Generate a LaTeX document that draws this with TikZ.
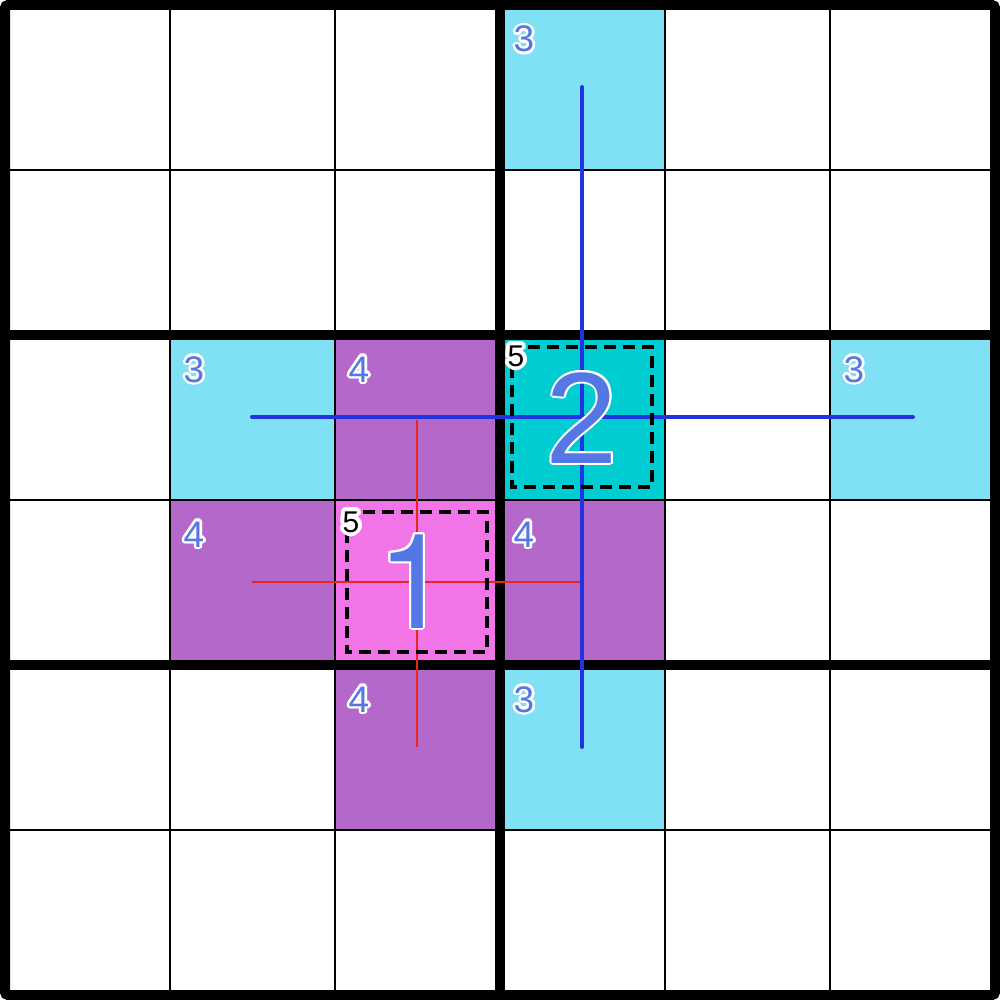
\documentclass[tikz,border=0pt]{standalone}
\usepackage{fontspec}
\setmainfont{Liberation Sans}
\newfontfamily\onefont{TeX Gyre Heros}
\definecolor{cyanc}{HTML}{80E1F5}
\definecolor{purpc}{HTML}{B469CA}
\definecolor{pinkc}{HTML}{F275E8}
\definecolor{tealc}{HTML}{00CDD2}
\definecolor{numblue}{HTML}{5577E6}
\definecolor{lineblue}{HTML}{2233E0}
\definecolor{linered}{HTML}{E8261E}
\tikzset{
  thingrid/.style={line width=2pt, black},
  thickgrid/.style={line width=10pt, black},
  bluepath/.style={line width=4pt, lineblue, line cap=round},
  redpath/.style={line width=2.7pt, linered},
  dashbox/.style={line width=3.5pt, black, dash pattern=on 12pt off 7pt},
  lbl/.style={inner sep=0pt, anchor=base},
}
% #1 name, #2 x, #3 y, #4 font size, #5 colour, #6 halo radius, #7 text
\newcommand{\halolabel}[7]{%
  \foreach \ang in {0,22.5,...,337.5}{%
    \node[lbl, white, font=\fontsize{#4}{#4}\selectfont, shift={(\ang:#6)}] at (#2,#3) {#7};
  }
  \foreach \ang in {0,45,...,315}{%
    \node[lbl, white, font=\fontsize{#4}{#4}\selectfont, shift={(\ang:#6*0.5)}] at (#2,#3) {#7};
  }
  \node[lbl, #5, font=\fontsize{#4}{#4}\selectfont] (#1) at (#2,#3) {#7};
}
\begin{document}
\begin{tikzpicture}[x=1pt,y=-1pt]
\useasboundingbox (0,0) rectangle (1000,1000);
\fill[white] (0,0) rectangle (1000,1000);
% cell fills: column c, row r
\foreach \c/\r/\col in {3/0/cyanc,1/2/cyanc,5/2/cyanc,3/4/cyanc,
                        2/2/purpc,1/3/purpc,3/3/purpc,2/4/purpc,
                        2/3/pinkc,3/2/tealc}{
  \fill[\col] ({5+165*\c},{5+165*\r}) rectangle ({5+165*(\c+1)},{5+165*(\r+1)});
}
% thin grid
\foreach \p in {170,830}{
  \draw[thingrid] (\p,5) -- (\p,995);
  \draw[thingrid] (5,\p) -- (995,\p);
}
\foreach \p in {335,665}{
  \draw[thingrid] (\p,5) -- (\p,995);
}
\draw[thingrid] (5,500) -- (995,500);
% thick grid
\draw[thickgrid] (500,5) -- (500,995);
\draw[thickgrid] (5,335) -- (995,335);
\draw[thickgrid] (5,665) -- (995,665);
\draw[thickgrid, rounded corners=3pt] (5,5) rectangle (995,995);
% coloured crosses
\coordinate (bt) at (582,87);
\coordinate (bb) at (582,747);
\coordinate (bl) at (252,417);
\coordinate (br) at (913,417);
\coordinate (rt) at (417,420);
\coordinate (rb) at (417,747);
\coordinate (rl) at (252,582);
\coordinate (rr) at (580,582);
\draw[redpath] (rt) -- (rb);
\draw[redpath] (rl) -- (rr);
\draw[bluepath] (bt) -- (bb);
\draw[bluepath] (bl) -- (br);
% dashed boxes
\draw[dashbox] (512,347) rectangle (652,487);
\draw[dashbox] (347,512) rectangle (487,652);
% big numbers
\halolabel{two}{582}{463}{130}{numblue}{2pt}{2}
\halolabel{one}{414}{628}{132}{numblue}{2pt}{\onefont 1}
% small numbers
\halolabel{tA}{524}{52}{37}{numblue}{2.6pt}{3}
\halolabel{tB}{194}{382}{37}{numblue}{2.6pt}{3}
\halolabel{tC}{854}{382}{37}{numblue}{2.6pt}{3}
\halolabel{tD}{524}{712}{37}{numblue}{2.6pt}{3}
\halolabel{fA}{359}{382}{37}{numblue}{2.6pt}{4}
\halolabel{fB}{194}{547}{37}{numblue}{2.6pt}{4}
\halolabel{fC}{524}{547}{37}{numblue}{2.6pt}{4}
\halolabel{fD}{359}{712}{37}{numblue}{2.6pt}{4}
\halolabel{vA}{516}{366}{30}{black}{4pt}{5}
\halolabel{vB}{351}{532}{30}{black}{4pt}{5}
\end{tikzpicture}
\end{document}
